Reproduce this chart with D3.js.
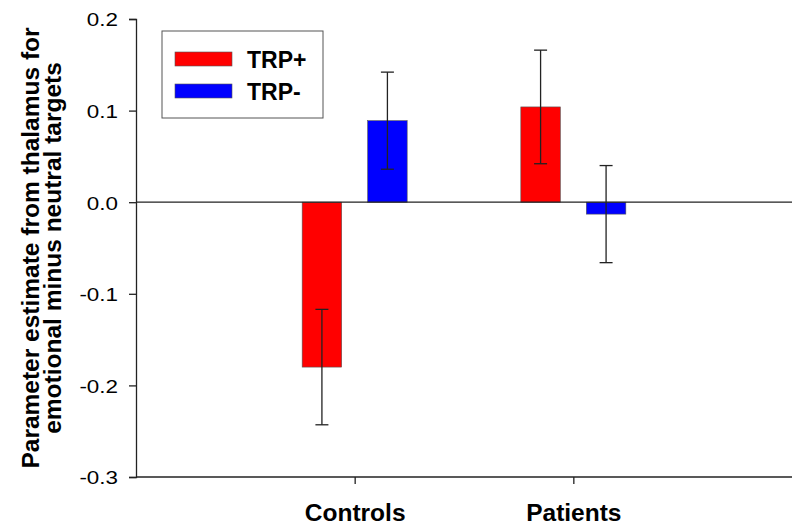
<!DOCTYPE html>
<html>
<head>
<meta charset="utf-8">
<script src="https://cdn.jsdelivr.net/npm/d3@7"></script>
<style>
  body { margin: 0; background: #fff; }
  svg { display: block; font-family: "Liberation Sans", Arial, sans-serif; }
</style>
</head>
<body>
<svg id="chart" width="800" height="529"></svg>
<script>
const categories = ["Controls", "Patients"];
const seriesNames = ["TRP+", "TRP-"];
const seriesColors = ["#ff0000", "#0000ff"];
const trpPlus = [-0.180, 0.104];
const trpMinus = [0.089, -0.013];
const errPlus = [0.063, 0.062];
const errMinus = [0.053, 0.053];
const yTicks = [0.2, 0.1, 0.0, -0.1, -0.2, -0.3];
const yLabelLines = ["Parameter estimate from thalamus for", "emotional minus neutral targets"];

(function () {
const series = [
  { name: seriesNames[0], color: seriesColors[0], values: trpPlus, errs: errPlus },
  { name: seriesNames[1], color: seriesColors[1], values: trpMinus, errs: errMinus }
];

const svg = d3.select("#chart");
const pLeft = 136, pRight = 792, pTop = 19, pBottom = 477;
const ff = "Liberation Sans, Arial, sans-serif";

const x = d3.scaleLinear().domain([0, categories.length + 1]).range([pLeft, pRight]);
const y = d3.scaleLinear().domain([-0.3, 0.2]).range([pBottom, pTop]);

const barW = 39.5;
const offsets = [-32.75, 32.75];

// bars
series.forEach((s, si) => {
  svg.append("g").selectAll("rect").data(s.values).join("rect")
    .attr("x", (d, i) => x(i + 1) + offsets[si] - barW / 2)
    .attr("y", d => y(Math.max(0, d)))
    .attr("width", barW)
    .attr("height", d => Math.abs(y(d) - y(0)))
    .attr("fill", s.color)
    .attr("stroke", "#555")
    .attr("stroke-width", 0.6);
});

// zero line
svg.append("line")
  .attr("x1", pLeft).attr("x2", pRight)
  .attr("y1", y(0)).attr("y2", y(0))
  .attr("stroke", "#222").attr("stroke-width", 1.3);

// error bars
series.forEach((s, si) => {
  const g = svg.append("g").attr("stroke", "#222").attr("stroke-width", 1.3);
  s.values.forEach((v, i) => {
    const cx = x(i + 1) + offsets[si];
    const hi = v + s.errs[i], lo = v - s.errs[i];
    g.append("line").attr("x1", cx).attr("x2", cx).attr("y1", y(hi)).attr("y2", y(lo));
    g.append("line").attr("x1", cx - 6.5).attr("x2", cx + 6.5).attr("y1", y(hi)).attr("y2", y(hi));
    g.append("line").attr("x1", cx - 6.5).attr("x2", cx + 6.5).attr("y1", y(lo)).attr("y2", y(lo));
  });
});

// y axis
const yAxis = d3.axisLeft(y).tickValues(yTicks).tickFormat(d => d.toFixed(1)).tickSizeOuter(0).tickSize(7).tickPadding(11);
const yg = svg.append("g").attr("transform", `translate(${pLeft},0)`).call(yAxis);
yg.select(".domain").attr("stroke", "#222").attr("stroke-width", 1.3);
yg.selectAll(".tick line").attr("stroke", "#222").attr("stroke-width", 1.3);
yg.selectAll(".tick text").attr("font-size", 19).attr("fill", "#000").attr("font-family", ff)
  .attr("x", -18 / 1.18).attr("transform", "scale(1.18,1)").attr("dy", "0.36em");

// x axis
const xAxis = d3.axisBottom(x).tickValues(categories.map((c, i) => i + 1))
  .tickFormat((d) => categories[d - 1]).tickSizeOuter(0).tickSize(7).tickPadding(16);
const xg = svg.append("g").attr("transform", `translate(0,${pBottom})`).call(xAxis);
xg.select(".domain").attr("stroke", "#222").attr("stroke-width", 1.3).attr("d", `M${pLeft},0H${pRight}`);
xg.selectAll(".tick line").attr("stroke", "#222").attr("stroke-width", 1.3);
xg.selectAll(".tick text").attr("font-size", 24.5).attr("font-weight", "bold").attr("fill", "#000")
  .attr("font-family", ff).attr("dy", null).attr("y", 44);

// y label
const yl = svg.append("text")
  .attr("transform", "translate(0,248) rotate(-90)")
  .attr("text-anchor", "middle")
  .attr("font-size", 24.5).attr("font-weight", "bold").attr("fill", "#000");
yl.append("tspan").attr("x", 0).attr("y", 39).text(yLabelLines[0]);
yl.append("tspan").attr("x", 0).attr("y", 61).text(yLabelLines[1]);

// legend
const lg = svg.append("g");
lg.append("rect").attr("x", 162).attr("y", 31).attr("width", 161).attr("height", 87)
  .attr("fill", "#fff").attr("stroke", "#555").attr("stroke-width", 1);
series.forEach((s, si) => {
  const yy = 52 + si * 32;
  lg.append("rect").attr("x", 175).attr("y", yy).attr("width", 57).attr("height", 14)
    .attr("fill", s.color).attr("stroke", "#555").attr("stroke-width", 0.6);
  lg.append("text").attr("x", 247).attr("y", yy + 15.5).attr("font-size", 23)
    .attr("font-weight", "bold").attr("fill", "#000").text(s.name);
});
})();
</script>
</body>
</html>
